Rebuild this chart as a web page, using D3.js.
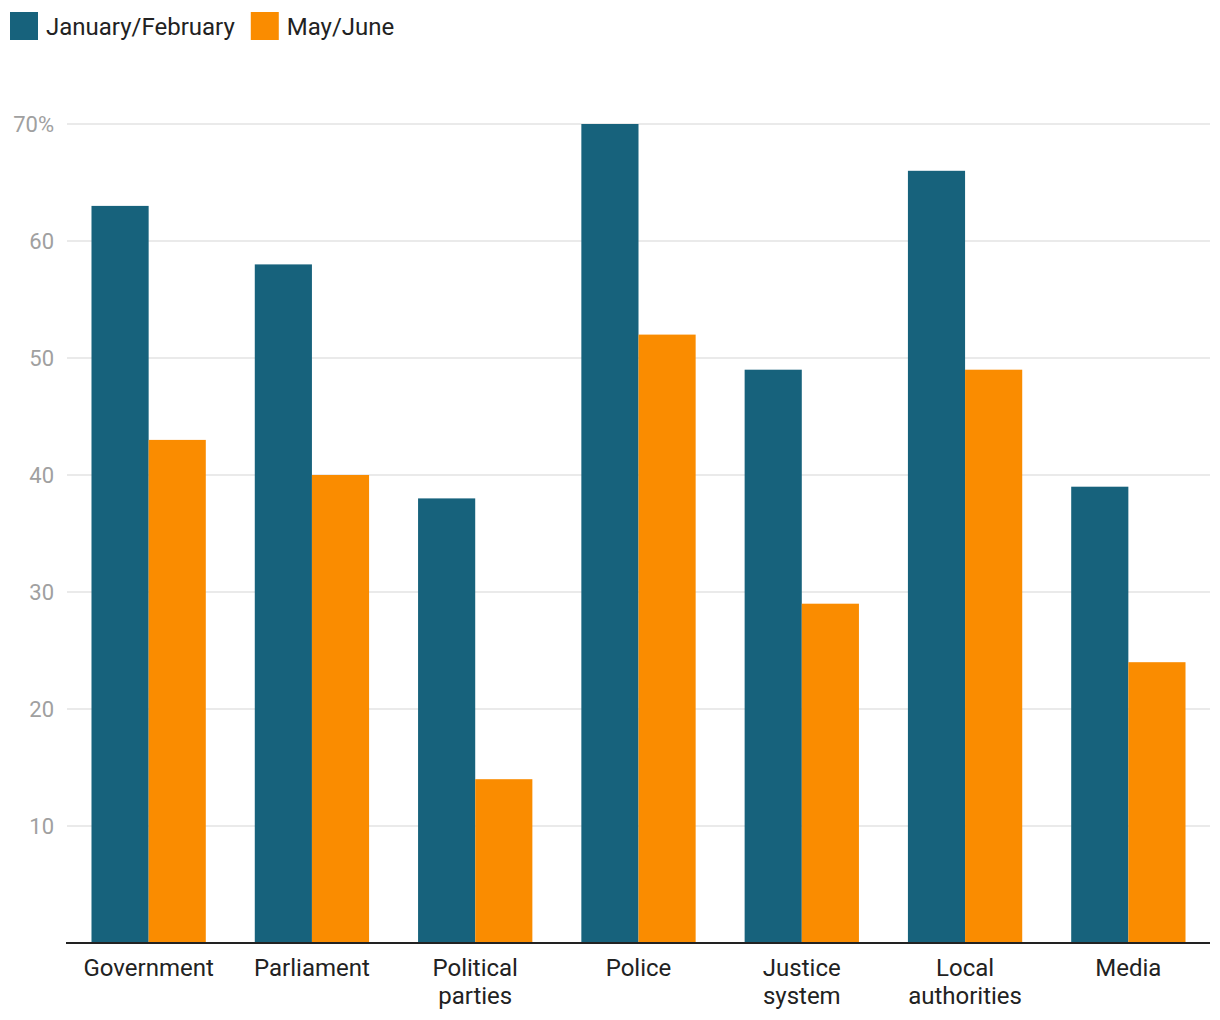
<!DOCTYPE html>
<html><head><meta charset="utf-8">
<script src="https://cdn.jsdelivr.net/npm/d3@7"></script>
<style>body{margin:0;background:#fff}svg{display:block;font-family:Roboto,sans-serif}</style>
</head><body>
<svg id="chart" width="1220" height="1020"></svg>
<script>
const categories = [["Government"],["Parliament"],["Political","parties"],["Police"],["Justice","system"],["Local","authorities"],["Media"]];
const seriesNames = ["January/February","May/June"];
const janFeb = [63,58,38,70,49,66,39];
const mayJune = [43,40,14,52,29,49,24];
const yTicks = [10,20,30,40,50,60,70];
const colors = ["#17627c","#fa8c00"];

(function(){
const svg = d3.select("#chart");
const mLeft = 67, mRight = 1210, mTop = 124, mBottom = 943;
const keys = categories.map(c=>c.join(" "));
const x = d3.scaleBand().domain(keys).range([mLeft,mRight]).paddingInner(0.3).paddingOuter(0.15);
const xs = d3.scaleBand().domain(seriesNames).range([0,x.bandwidth()]);
const y = d3.scaleLinear().domain([0,70]).range([mBottom,mTop]);

svg.append("g").selectAll("line").data(yTicks).join("line")
  .attr("x1",mLeft).attr("x2",mRight).attr("y1",d=>y(d)).attr("y2",d=>y(d))
  .attr("stroke","#e3e3e3").attr("stroke-width",1.5);
svg.append("g").selectAll("text").data(yTicks).join("text")
  .attr("x",54).attr("y",d=>y(d)).attr("dy","0.36em").attr("text-anchor","end")
  .attr("font-size",22).attr("fill","#a0a0a0")
  .text(d=>d===70? d+"%" : d);

const series = [janFeb, mayJune];
series.forEach((vals,si)=>{
  svg.append("g").selectAll("rect").data(vals).join("rect")
    .attr("x",(d,i)=>x(keys[i])+xs(seriesNames[si]))
    .attr("width",xs.bandwidth())
    .attr("y",d=>y(d)).attr("height",d=>y(0)-y(d))
    .attr("fill",colors[si]);
});

svg.append("line").attr("x1",mLeft-1).attr("x2",mRight).attr("y1",mBottom).attr("y2",mBottom)
  .attr("stroke","#222").attr("stroke-width",2);

const xl = svg.append("g").selectAll("text").data(categories).join("text")
  .attr("text-anchor","middle").attr("font-size",24).attr("fill","#222")
  .attr("transform",(d,i)=>`translate(${x(keys[i])+x.bandwidth()/2},976)`);
xl.selectAll("tspan").data(d=>d).join("tspan").attr("x",0).attr("dy",(d,i)=>i?28:0).text(d=>d);

const lg = svg.append("g");
let lx = 10;
seriesNames.forEach((n,i)=>{
  lg.append("rect").attr("x",lx).attr("y",12).attr("width",28).attr("height",28).attr("fill",colors[i]);
  const t = lg.append("text").attr("x",lx+36).attr("y",26).attr("dy","0.36em").attr("font-size",24).attr("fill","#222").text(n);
  lx += 36 + t.node().getComputedTextLength() + 16;
});
})();
</script>
</body></html>
